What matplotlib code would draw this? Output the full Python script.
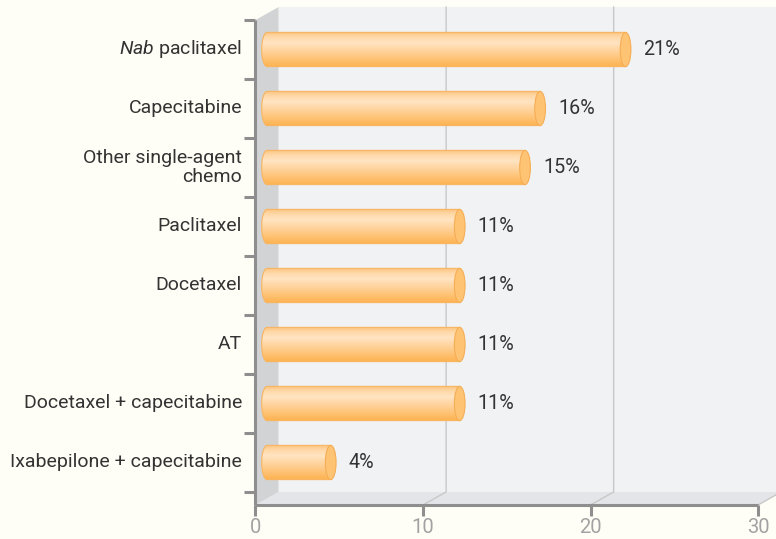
import matplotlib.pyplot as plt
import numpy as np
from matplotlib.patches import Polygon, Ellipse, PathPatch
from matplotlib.path import Path
from matplotlib.colors import to_rgb

plt.rcParams['font.family'] = ['Roboto', 'DejaVu Sans']
plt.rcParams['mathtext.fontset'] = 'custom'
plt.rcParams['mathtext.rm'] = 'Roboto'
plt.rcParams['mathtext.it'] = 'Roboto:italic'

# data, top bar first
categories = ["$\\mathit{Nab}$ paclitaxel", "Capecitabine", "Other single-agent\nchemo",
              "Paclitaxel", "Docetaxel", "AT", "Docetaxel + capecitabine",
              "Ixabepilone + capecitabine"]
shares = [21, 16, 15, 11, 11, 11, 11, 4]                       # printed labels (%)
bar_len = [21.4, 16.3, 15.4, 11.5, 11.5, 11.5, 11.5, 3.8]      # drawn lengths (%)
x_ticks = [0, 10, 20, 30]

BG = '#fffef6'
WALL = '#f1f2f4'
FLOOR = '#e4e5e8'
SIDE = '#d2d3d5'
AXIS = '#8e8e8e'
GRID = '#c8c8c8'
TXT = '#333333'

fig = plt.figure(figsize=(7.76, 5.39), dpi=100, facecolor=BG)
ax = fig.add_axes([0, 0, 1, 1])
ax.set_axis_off()

n = len(categories)
dx, dy = 1.38, 0.22   # depth offset of the fake 3d box (data units)
y0 = -0.22            # front edge of the floor
top = n               # front top of the side wall
xmax = x_ticks[-1]

# walls and floor
ax.add_patch(Polygon([(dx, y0 + dy), (xmax + dx, y0 + dy), (xmax + dx, top + dy), (dx, top + dy)],
                     closed=True, fc=WALL, ec='none', zorder=0))
ax.add_patch(Polygon([(0, y0), (xmax, y0), (xmax + dx, y0 + dy), (dx, y0 + dy)],
                     closed=True, fc=FLOOR, ec='none', zorder=0.5))
ax.add_patch(Polygon([(0, y0), (dx, y0 + dy), (dx, top + dy), (0, top)],
                     closed=True, fc=SIDE, ec='none', zorder=0.6))

# gridlines (floor diagonal + back wall vertical)
for v in x_ticks[1:]:
    ax.plot([v, v + dx, v + dx], [y0, y0 + dy, top + dy], color=GRID, lw=1, zorder=0.7)

# gradient for the cylinders (top -> bottom)
stops = [(0.0, '#fcc27c'), (0.12, '#ffd7a5'), (0.3, '#ffe4c3'), (0.6, '#ffcf92'), (1.0, '#fdb24f')]
pos = np.linspace(0, 1, 64)
grad = np.zeros((64, 1, 3))
for c in range(3):
    grad[:, 0, c] = np.interp(pos, [s[0] for s in stops], [to_rgb(s[1])[c] for s in stops])

h = 0.58
ew = 0.32
x0 = dx / 2
t = np.linspace(np.pi / 2, 3 * np.pi / 2, 40)
for i, (L, s) in enumerate(zip(bar_len, shares)):
    yc = n - 1 - i + 0.5
    x1 = x0 + L
    verts = [(x0 + ew * np.cos(a), yc + h / 2 * np.sin(a)) for a in t]
    verts += [(x1, yc - h / 2), (x1, yc + h / 2), verts[0]]
    path = Path(verts, [Path.MOVETO] + [Path.LINETO] * (len(verts) - 2) + [Path.CLOSEPOLY])
    outline = PathPatch(path, fc='none', ec='#f8b561', lw=0.8, zorder=3)
    ax.add_patch(outline)
    im = ax.imshow(grad, extent=(x0 - ew, x1, yc - h / 2, yc + h / 2), aspect='auto',
                   origin='upper', zorder=2, interpolation='bilinear')
    im.set_clip_path(outline)
    ax.add_patch(Ellipse((x1, yc), 2 * ew, h, fc='#ffc374', ec='#f5ae55', lw=0.8, zorder=4))
    ax.text(x1 + 1.07, yc, f"{s}%", ha='left', va='center', fontsize=14.2, color=TXT, zorder=5)
    ax.text(-0.8, yc, categories[i], ha='right', va='center', fontsize=14, color=TXT,
            linespacing=1.1, multialignment='right')

# axes lines and ticks
ax.plot([0, xmax], [y0, y0], color=AXIS, lw=2.2, solid_capstyle='butt', zorder=6)
ax.plot([0, 0], [y0, top], color=AXIS, lw=2.2, solid_capstyle='butt', zorder=6)
for v in x_ticks:
    ax.plot([v, v], [y0, y0 - 0.19], color=AXIS, lw=2.2, solid_capstyle='butt', zorder=6)
    ax.text(v, y0 - 0.39, str(v), ha='center', va='center', fontsize=14.5, color='#a2a2a2')
for k in range(n + 1):
    ax.plot([-0.68, 0], [k, k], color=AXIS, lw=2.2, solid_capstyle='butt', zorder=6)

ax.set_xlim(-15.25, 31.07)
ax.set_ylim(-0.797, 8.339)

fig.savefig('out.png', dpi=100, facecolor=BG)
